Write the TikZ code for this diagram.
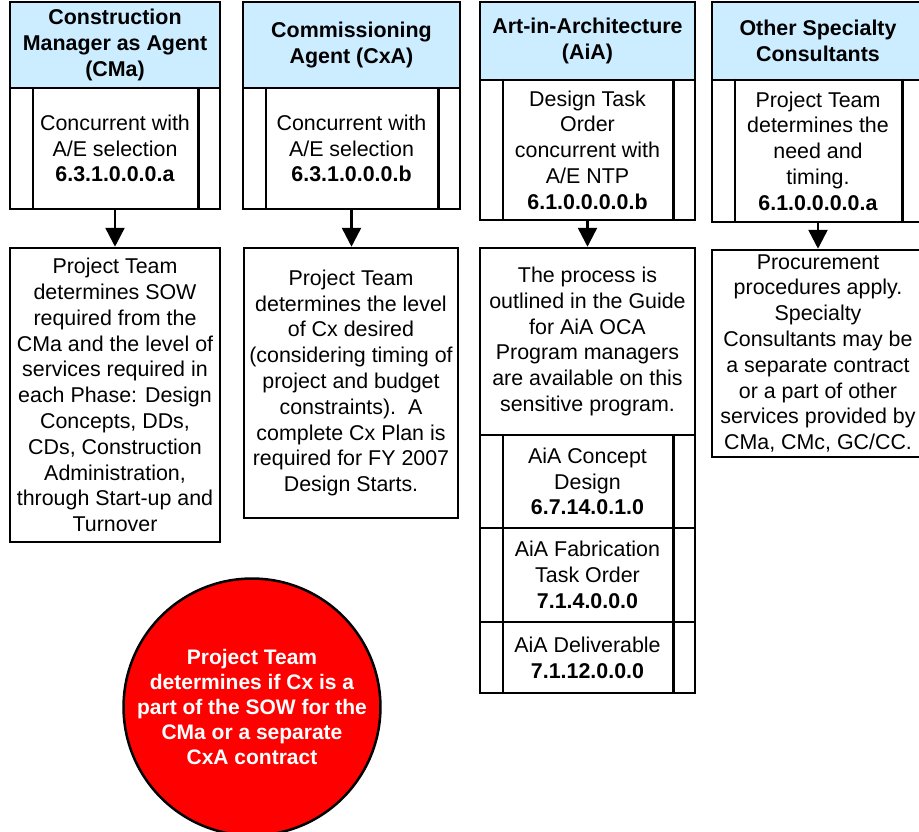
\documentclass[tikz,border=0pt]{standalone}
\usepackage{fontspec}
\setmainfont{Liberation Sans}
\usetikzlibrary{arrows.meta}
\definecolor{hblue}{RGB}{204,236,255}
\definecolor{cred}{RGB}{255,0,0}
\tikzset{
  box/.style={draw, line width=2.5pt, align=center, inner sep=0pt, font=\fontsize{21.4}{25.8}\selectfont},
  hdr/.style={box, fill=hblue, font=\fontsize{21.4}{26}\selectfont\bfseries},
  arr/.style={line width=2.5pt, -{Triangle[width=19pt,length=19pt]}},
  bar/.style={line width=2.5pt},
  redc/.style={circle, draw, line width=2.5pt, fill=cred, text=white, align=center, inner sep=0pt, minimum size=254pt, font=\fontsize{21}{25}\selectfont\bfseries}
}
\newcommand{\sidebars}[1]{%
  \draw[bar] ([xshift=24pt]#1.north west) -- ([xshift=24pt]#1.south west);
  \draw[bar] ([xshift=-23pt]#1.north east) -- ([xshift=-23pt]#1.south east);}
\begin{document}
\begin{tikzpicture}[x=1pt,y=-1pt]
\useasboundingbox (0,0) rectangle (919,832);
\clip (0,0) rectangle (919,832);
% Column 1: CMa
\node[hdr, minimum width=210pt, minimum height=86pt] (cmaH) at (115,45) {Construction\\Manager as Agent\\(CMa)};
\node[box, minimum width=210pt, minimum height=121pt] (cmaL) at (115,148.5) {Concurrent with\\A/E selection\\\textbf{6.3.1.0.0.0.a}};
\sidebars{cmaL}
\node[box, minimum width=210pt, minimum height=294pt] (cmaD) at (115,395) {Project Team\\determines SOW\\required from the\\CMa and the level of\\services required in\\each Phase: Design\\Concepts, DDs,\\CDs, Construction\\Administration,\\through Start-up and\\Turnover};
\draw[arr] (cmaL.south) -- (cmaL.south |- cmaD.north);
% Column 2: CxA
\node[hdr, minimum width=217pt, minimum height=86pt] (cxaH) at (351.5,45) {Commissioning\\Agent (CxA)};
\node[box, minimum width=217pt, minimum height=121pt] (cxaL) at (351.5,148.5) {Concurrent with\\A/E selection\\\textbf{6.3.1.0.0.0.b}};
\sidebars{cxaL}
\node[box, minimum width=214pt, minimum height=270pt] (cxaD) at (351,383) {Project Team\\determines the level\\of Cx desired\\(considering timing of\\project and budget\\constraints).~~A\\complete Cx Plan is\\required for FY 2007\\Design Starts.};
\draw[arr] (cxaL.south) -- (cxaL.south |- cxaD.north);
% Column 3: AiA
\node[hdr, minimum width=215pt, minimum height=78pt] (aiaH) at (587.5,41) {Art-in-Architecture\\(AiA)};
\node[box, minimum width=215pt, minimum height=140pt] (aiaL) at (587.5,150) {Design Task\\Order\\concurrent with\\A/E NTP\\\textbf{6.1.0.0.0.0.b}};
\sidebars{aiaL}
\node[box, minimum width=215pt, minimum height=187pt] (aiaD) at (587.5,341.5) {The process is\\outlined in the Guide\\for AiA OCA\\Program managers\\are available on this\\sensitive program.};
\draw[arr] (aiaL.south) -- (aiaL.south |- aiaD.north);
\node[box, minimum width=215pt, minimum height=93pt] (aiaC) at (587.5,481.5) {AiA Concept\\Design\\\textbf{6.7.14.0.1.0}};
\sidebars{aiaC}
\node[box, minimum width=215pt, minimum height=94pt] (aiaF) at (587.5,575) {AiA Fabrication\\Task Order\\\textbf{7.1.4.0.0.0}};
\sidebars{aiaF}
\node[box, minimum width=215pt, minimum height=71pt] (aiaV) at (587.5,657.5) {AiA Deliverable\\\textbf{7.1.12.0.0.0}};
\sidebars{aiaV}
% Column 4: Other
\node[hdr, minimum width=212pt, minimum height=78pt] (othH) at (818,41) {Other Specialty\\Consultants};
\node[box, minimum width=212pt, minimum height=142pt] (othL) at (818,151) {Project Team\\determines the\\need and\\timing.\\\textbf{6.1.0.0.0.0.a}};
\sidebars{othL}
\node[box, minimum width=212pt, minimum height=207pt] (othD) at (818,353.5) {Procurement\\procedures apply.\\Specialty\\Consultants may be\\a separate contract\\or a part of other\\services provided by\\CMa, CMc, GC/CC.};
\draw[arr] (othL.south) -- (othL.south |- othD.north);
% Red circle
\node[redc] (circ) at (252,707) {Project Team\\determines if Cx is a\\part of the SOW for the\\CMa or a separate\\CxA contract};
\end{tikzpicture}
\end{document}
